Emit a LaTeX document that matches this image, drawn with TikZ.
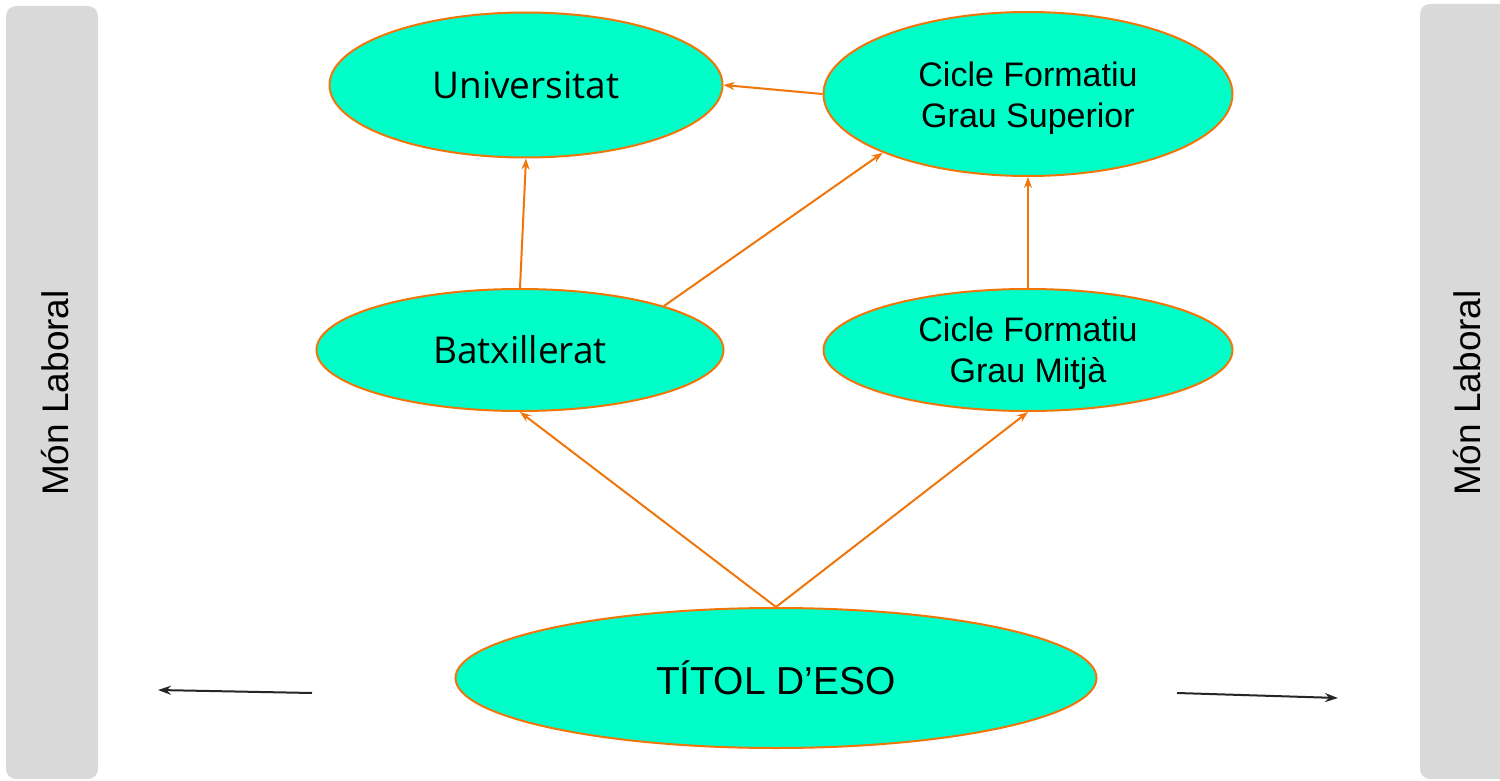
\documentclass[tikz,border=0pt]{standalone}
\usepackage{fontspec}
\setmainfont{Liberation Sans}
\newfontfamily\opensans{Open Sans}
\usetikzlibrary{shapes.geometric,arrows.meta}
\definecolor{nodefill}{RGB}{0,255,200}
\definecolor{nodeline}{RGB}{240,118,10}
\definecolor{bargrey}{RGB}{217,217,217}
\begin{document}
\begin{tikzpicture}[x=1pt,y=-1pt,
  oval/.style={ellipse,draw=nodeline,fill=nodefill,line width=2pt,inner sep=0pt,align=center},
  link/.style={draw=nodeline,line width=2pt,-{Stealth[length=11pt,width=8pt]}},
  exitarrow/.style={draw=black!85,line width=2pt,-{Stealth[length=13pt,width=9pt]}},
  bar/.style={fill=bargrey,rounded corners=10pt},
  lbl/.style={rotate=90,font=\fontsize{37}{44}\selectfont}]
\useasboundingbox (0,0) rectangle (1500,781);
\fill[white] (0,0) rectangle (1500,781);
\path[bar] (6,6) rectangle (98,779);
\path[bar] (1420,4) rectangle (1520,779);
\node[lbl] (ml) at (55,393) {Món Laboral};
\node[lbl] (mr) at (1467,393) {Món Laboral};
\node[oval,minimum width=393pt,minimum height=145pt,font=\opensans\fontsize{37}{41}\selectfont] (univ) at (526,85) {Universitat};
\node[oval,minimum width=409pt,minimum height=164pt,font=\fontsize{34}{41}\selectfont] (cfgs) at (1028,94) {\raisebox{-4pt}[\height][\depth]{\parbox{250pt}{\centering Cicle Formatiu\\Grau Superior}}};
\node[oval,minimum width=407pt,minimum height=122pt,font=\opensans\fontsize{37}{41}\selectfont] (batx) at (520,350) {Batxillerat};
\node[oval,minimum width=409pt,minimum height=122pt,font=\fontsize{34}{41}\selectfont] (cfgm) at (1028,350) {\raisebox{-3pt}[\height][\depth]{\parbox{250pt}{\centering Cicle Formatiu\\Grau Mitjà}}};
\node[oval,minimum width=641pt,minimum height=140pt,font=\fontsize{39}{44}\selectfont] (eso) at (776,678) {TÍTOL D’ESO};
\draw[link] (batx.north) -- (univ.south);
\draw[link] (batx.17) -- (cfgs.202);
\draw[link] (cfgm.north) -- (cfgs.south);
\draw[link] (cfgs.west) -- (univ.east);
\draw[link] (eso.north) -- (batx.south);
\draw[link] (eso.north) -- (cfgm.south);
\coordinate (la) at (312,693);
\coordinate (lb) at (158,690);
\coordinate (ra) at (1177,693);
\coordinate (rb) at (1338,698);
\draw[exitarrow] (la) -- (lb);
\draw[exitarrow] (ra) -- (rb);
\end{tikzpicture}
\end{document}
